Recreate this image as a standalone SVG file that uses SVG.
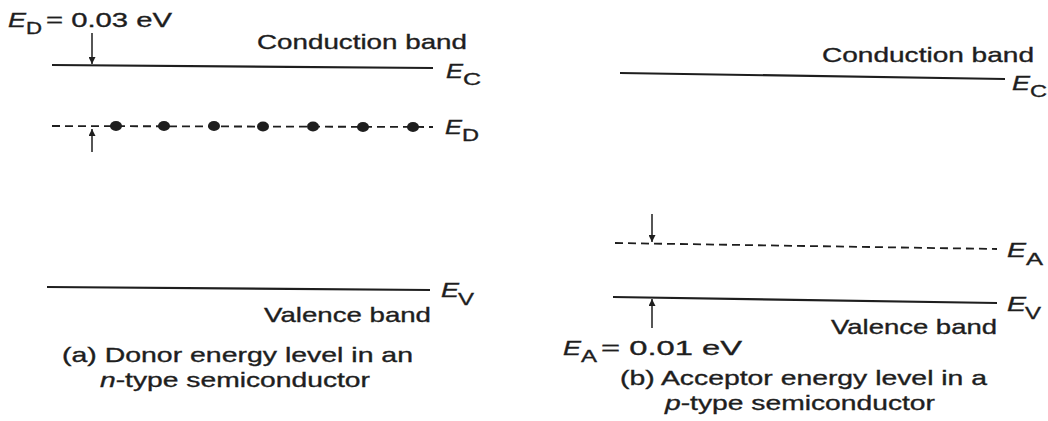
<svg xmlns="http://www.w3.org/2000/svg" width="1048" height="421" viewBox="0 0 1048 421">
<style>
.t{font-family:"Liberation Sans",Arial,sans-serif;fill:#1e1e1e;font-size:21px;stroke:#1e1e1e;stroke-width:0.35}
.s{font-size:17px}
.i{font-style:italic}
.band{stroke:#1e1e1e;stroke-width:2.2;fill:none}
.dash{stroke:#1e1e1e;stroke-width:1.8;stroke-dasharray:8 5;fill:none}
.arr{stroke:#1e1e1e;stroke-width:1.5;fill:none}
.dot{fill:#1e1e1e}
</style>
<defs>
<marker id="ah" viewBox="0 0 10 10" refX="10" refY="5" markerWidth="8" markerHeight="7" markerUnits="userSpaceOnUse" orient="auto">
<path d="M0,0 L10,5 L0,10 z" fill="#1e1e1e"/>
</marker>
</defs>
<rect width="1048" height="421" fill="#fff"/>

<g id="connectors">
<line class="arr" x1="92" y1="33" x2="92" y2="64" marker-end="url(#ah)"/>
<line class="arr" x1="92" y1="152" x2="92" y2="129" marker-end="url(#ah)"/>
<line class="arr" x1="652" y1="214" x2="652" y2="242" marker-end="url(#ah)"/>
<line class="arr" x1="652" y1="328" x2="652" y2="299" marker-end="url(#ah)"/>
</g>

<g id="n-conduction-band">
<line class="band" x1="52" y1="65" x2="433" y2="68"/>
<text class="t" x="257" y="49" textLength="210" lengthAdjust="spacingAndGlyphs">Conduction band</text>
<text class="t i" x="446" y="78" textLength="17" lengthAdjust="spacingAndGlyphs">E</text>
<text class="t s" x="463" y="85" textLength="18" lengthAdjust="spacingAndGlyphs">C</text>
</g>

<g id="n-donor-gap">
<text class="t i" x="8" y="27" textLength="18" lengthAdjust="spacingAndGlyphs">E</text>
<text class="t s" x="26" y="34" textLength="16" lengthAdjust="spacingAndGlyphs">D</text>
<text class="t" x="46" y="27" textLength="126" lengthAdjust="spacingAndGlyphs">= 0.03 eV</text>
</g>

<g id="n-donor-level">
<line class="dash" x1="52" y1="126" x2="433" y2="127"/>
<ellipse class="dot" cx="116" cy="126" rx="6" ry="5"/>
<ellipse class="dot" cx="164" cy="126" rx="6" ry="5"/>
<ellipse class="dot" cx="214" cy="126" rx="6" ry="5"/>
<ellipse class="dot" cx="263" cy="126.5" rx="6" ry="5"/>
<ellipse class="dot" cx="313" cy="126.5" rx="6" ry="5"/>
<ellipse class="dot" cx="363" cy="127" rx="6" ry="5"/>
<ellipse class="dot" cx="413" cy="127" rx="6" ry="5"/>
<text class="t i" x="445" y="134" textLength="17" lengthAdjust="spacingAndGlyphs">E</text>
<text class="t s" x="462" y="141" textLength="17" lengthAdjust="spacingAndGlyphs">D</text>
</g>

<g id="n-valence-band">
<line class="band" x1="47" y1="287" x2="430" y2="290"/>
<text class="t i" x="441" y="297" textLength="18" lengthAdjust="spacingAndGlyphs">E</text>
<text class="t s" x="458" y="305" textLength="16" lengthAdjust="spacingAndGlyphs">V</text>
<text class="t" x="264" y="322" textLength="167" lengthAdjust="spacingAndGlyphs">Valence band</text>
</g>

<g id="caption-a">
<text class="t" x="62" y="362" textLength="351" lengthAdjust="spacingAndGlyphs">(a) Donor energy level in an</text>
<text class="t" x="100" y="387" textLength="270" lengthAdjust="spacingAndGlyphs"><tspan class="i">n</tspan>-type semiconductor</text>
</g>

<g id="p-conduction-band">
<line class="band" x1="620" y1="73" x2="1005" y2="79"/>
<text class="t" x="822" y="62" textLength="212" lengthAdjust="spacingAndGlyphs">Conduction band</text>
<text class="t i" x="1012" y="90" textLength="18" lengthAdjust="spacingAndGlyphs">E</text>
<text class="t s" x="1030" y="97" textLength="17" lengthAdjust="spacingAndGlyphs">C</text>
</g>

<g id="p-acceptor-level">
<line class="dash" x1="615" y1="243" x2="997" y2="249"/>
<text class="t i" x="1007" y="257" textLength="19" lengthAdjust="spacingAndGlyphs">E</text>
<text class="t s" x="1026" y="265" textLength="17" lengthAdjust="spacingAndGlyphs">A</text>
</g>

<g id="p-valence-band">
<line class="band" x1="613" y1="297" x2="997" y2="303"/>
<text class="t i" x="1007" y="311" textLength="19" lengthAdjust="spacingAndGlyphs">E</text>
<text class="t s" x="1025" y="319" textLength="16" lengthAdjust="spacingAndGlyphs">V</text>
<text class="t" x="831" y="334" textLength="166" lengthAdjust="spacingAndGlyphs">Valence band</text>
</g>

<g id="p-acceptor-gap">
<text class="t i" x="563" y="355" textLength="18" lengthAdjust="spacingAndGlyphs">E</text>
<text class="t s" x="581" y="362" textLength="16" lengthAdjust="spacingAndGlyphs">A</text>
<text class="t" x="601" y="355" textLength="141" lengthAdjust="spacingAndGlyphs">= 0.01 eV</text>
</g>

<g id="caption-b">
<text class="t" x="620" y="385" textLength="367" lengthAdjust="spacingAndGlyphs">(b) Acceptor energy level in a</text>
<text class="t" x="665" y="410" textLength="270" lengthAdjust="spacingAndGlyphs"><tspan class="i">p</tspan>-type semiconductor</text>
</g>
</svg>
